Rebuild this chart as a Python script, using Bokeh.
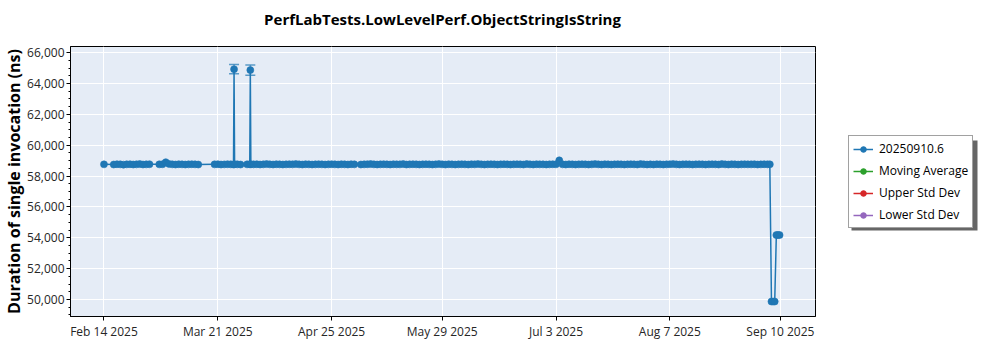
import math
import pandas as pd
from bokeh.plotting import figure
from bokeh.layouts import row, column
from bokeh.models import (ColumnDataSource, Whisker, TeeHead, Legend, LegendItem, Label,
                          FixedTicker, NumeralTickFormatter, Range1d, BoxAnnotation)
from bokeh.embed import file_html
from bokeh.resources import INLINE

title_text = "PerfLabTests.LowLevelPerf.ObjectStringIsString"
y_label = "Duration of single invocation (ns)"
legend_names = ["20250910.6", "Moving Average", "Upper Std Dev", "Lower Std Dev"]
legend_colors = ["#1f77b4", "#2ca02c", "#d62728", "#9467bd"]

# day-of-month per month (fractional = time of day)
feb_days = [14, 17, 18, 19, 20, 21, 22, 23, 24, 25, 26, 27, 28]
feb_vals = [58760, 58750, 58770, 58760, 58740, 58760, 58770, 58750, 58760, 58780, 58750, 58760, 58770]

mar_days = [3, 4, 5, 6, 7, 8, 9, 10, 11, 12, 13, 14, 15,
            20, 21, 22, 23, 24, 25, 25.83, 26, 26.17, 27, 28,
            30, 30.83, 31, 31.17]
mar_vals = [58760, 58770, 58900, 58790, 58760, 58750, 58770, 58760, 58750, 58760, 58770, 58760, 58750,
            58760, 58770, 58750, 58760, 58770, 58760, 58750, 64930, 58770, 58760, 58750,
            58760, 58770, 64870, 58760]

apr_days = [1, 2, 3, 4, 5, 6, 7, 8, 9, 10, 11, 12, 13, 14, 15, 16, 17, 18, 19, 20,
            21, 22, 23, 24, 25, 26, 27, 28, 29, 30]
apr_vals = [58760, 58770, 58750, 58760, 58780, 58760, 58750, 58770, 58760, 58750,
            58760, 58770, 58760, 58780, 58760, 58750, 58770, 58760, 58750, 58760,
            58770, 58760, 58750, 58760, 58770, 58760, 58750, 58770, 58760, 58750]

may_days = [1, 2, 4, 5, 6, 7, 8, 9, 10, 11, 12, 13, 14, 15, 16, 17, 18, 19, 20, 21,
            22, 23, 24, 25, 26, 27, 28, 29, 30, 31]
may_vals = [58770, 58760, 58750, 58760, 58770, 58780, 58760, 58750, 58760, 58770,
            58760, 58750, 58770, 58760, 58760, 58780, 58750, 58760, 58770, 58760,
            58750, 58760, 58770, 58760, 58750, 58760, 58780, 58760, 58750, 58770]

jun_days = [1, 2, 3, 4, 5, 6, 7, 8, 9, 10, 11, 12, 13, 14, 15, 16, 17, 18, 19, 20,
            21, 22, 23, 24, 25, 26, 27, 28, 29, 30]
jun_vals = [58760, 58750, 58760, 58770, 58760, 58750, 58770, 58760, 58780, 58760,
            58750, 58760, 58770, 58760, 58750, 58760, 58770, 58760, 58750, 58760,
            58770, 58760, 58750, 58780, 58760, 58750, 58770, 58760, 58760, 58750]

jul_days = [1, 2, 3, 4, 5, 6, 7, 8, 9, 10, 11, 12, 13, 14, 15, 16, 17, 18, 19, 20,
            21, 22, 23, 24, 25, 26, 27, 28, 29, 30, 31]
jul_vals = [58760, 58770, 58760, 59020, 58760, 58750, 58770, 58760, 58750, 58760,
            58770, 58760, 58750, 58760, 58780, 58760, 58750, 58770, 58760, 58750,
            58760, 58770, 58760, 58750, 58760, 58770, 58760, 58750, 58780, 58760,
            58750]

aug_days = [1, 2, 3, 4, 5, 6, 7, 8, 9, 10, 11, 12, 13, 14, 15, 16, 17, 18, 19, 20,
            21, 22, 23, 24, 25, 26, 27, 28, 29, 30, 31]
aug_vals = [58760, 58750, 58770, 58760, 58750, 58760, 58770, 58780, 58760, 58750,
            58760, 58770, 58760, 58750, 58760, 58770, 58760, 58750, 58760, 58770,
            58760, 58750, 58780, 58760, 58750, 58770, 58760, 58750, 58760, 58770,
            58760]

sep_days = [1, 2, 3, 4, 5, 6, 6.75, 7.25, 7.75, 8.25, 8.75, 9.25, 9.75]
sep_vals = [58760, 58770, 58750, 58760, 58770, 58760, 58760,
            49870, 49870, 49870, 54180, 54180, 54180]

# error bars on the two spikes
err_days_mar = [26, 31]
err_upper = [65240, 65200]
err_lower = [64640, 64530]

x_tick_dates = ["2025-02-14", "2025-03-21", "2025-04-25", "2025-05-29",
                "2025-07-03", "2025-08-07", "2025-09-10"]
x_tick_labels = ["Feb 14 2025", "Mar 21 2025", "Apr 25 2025", "May 29 2025",
                 "Jul 3 2025", "Aug 7 2025", "Sep 10 2025"]
y_ticks = [50000, 52000, 54000, 56000, 58000, 60000, 62000, 64000, 66000]


def to_dt(month, days):
    base = pd.Timestamp(f"2025-{month:02d}-01")
    return [base + pd.Timedelta(days=d - 1) for d in days]


xs = (to_dt(2, feb_days) + to_dt(3, mar_days) + to_dt(4, apr_days) + to_dt(5, may_days)
      + to_dt(6, jun_days) + to_dt(7, jul_days) + to_dt(8, aug_days) + to_dt(9, sep_days))
ys = feb_vals + mar_vals + apr_vals + may_vals + jun_vals + jul_vals + aug_vals + sep_vals

src = ColumnDataSource(dict(x=xs, y=ys))
err_src = ColumnDataSource(dict(x=to_dt(3, err_days_mar), upper=err_upper, lower=err_lower))

FONT = "Open Sans"

# ---- title strip above the plot ----
tf = figure(width=845, height=40, output_backend="svg", toolbar_location=None, title=None,
            x_range=Range1d(0, 1), y_range=Range1d(0, 1),
            x_axis_location=None, y_axis_location=None,
            min_border_left=0, min_border_right=0, min_border_top=0, min_border_bottom=0)
tf.grid.visible = False
tf.outline_line_color = None
tf.background_fill_color = "white"
tf.border_fill_color = "white"
tf.add_layout(Label(x=442, y=18, x_units="canvas", y_units="canvas", text=title_text,
                    text_align="center", text_baseline="middle", text_font=FONT,
                    text_font_size="15px", text_font_style="bold", text_color="#000000"))

p = figure(width=845, height=310, x_axis_type="datetime", output_backend="svg",
           toolbar_location=None, title=None,
           x_range=Range1d(pd.Timestamp("2025-02-03 17:00"), pd.Timestamp("2025-09-20 19:00")),
           y_range=Range1d(48900, 66400),
           min_border_left=70, min_border_right=30, min_border_top=6, min_border_bottom=34)

p.background_fill_color = "#E5ECF6"
p.border_fill_color = "white"
p.outline_line_color = "#000000"
p.outline_line_width = 1

p.xgrid.grid_line_color = "white"
p.ygrid.grid_line_color = "white"
p.xgrid.grid_line_width = 1
p.ygrid.grid_line_width = 1

tick_ms = [pd.Timestamp(d).value / 1e6 for d in x_tick_dates]
p.xaxis.ticker = FixedTicker(ticks=tick_ms)
p.xaxis.major_label_overrides = {t: lab for t, lab in zip(tick_ms, x_tick_labels)}
p.yaxis.ticker = FixedTicker(ticks=y_ticks,
                             minor_ticks=[48500 + 500 * i for i in range(37)])
p.yaxis.formatter = NumeralTickFormatter(format="0,0")

for ax in (p.xaxis[0], p.yaxis[0]):
    ax.axis_line_color = "#000000"
    ax.major_tick_line_color = "#000000"
    ax.minor_tick_line_color = "#000000"
    ax.major_tick_out = 4
    ax.major_tick_in = 0
    ax.minor_tick_out = 2
    ax.minor_tick_in = 0
    ax.major_label_text_font = FONT
    ax.major_label_text_font_size = "12px"
    ax.major_label_text_color = "#262626"
    ax.major_label_standoff = 2

p.yaxis.axis_label = y_label
p.yaxis.axis_label_text_font = FONT
p.yaxis.axis_label_text_font_size = "16px"
p.yaxis.axis_label_text_font_style = "bold"
p.yaxis.axis_label_text_color = "#000000"
p.yaxis.axis_label_standoff = -1

whisk = Whisker(base="x", upper="upper", lower="lower", source=err_src,
                line_color="#1f77b4", line_alpha=0.55, line_width=1.5,
                upper_head=TeeHead(size=10, line_color="#1f77b4", line_alpha=0.7, line_width=1.5),
                lower_head=TeeHead(size=10, line_color="#1f77b4", line_alpha=0.7, line_width=1.5))
p.add_layout(whisk)

p.line("x", "y", source=src, line_color="#1f77b4", line_width=1.5)
p.scatter("x", "y", source=src, size=7, fill_color="#1f77b4",
          line_color="#1f77b4", line_alpha=0.6)

# ---- legend panel (separate small canvas to the right of the plot) ----
lf = figure(width=155, height=350, output_backend="svg", toolbar_location=None,
            x_range=Range1d(0, 1), y_range=Range1d(0, 1),
            x_axis_location=None, y_axis_location=None,
            min_border_left=0, min_border_right=0, min_border_top=0, min_border_bottom=0)
lf.grid.visible = False
lf.outline_line_color = None
lf.background_fill_color = "white"
lf.border_fill_color = "white"

shadow = BoxAnnotation(left=6, right=132, top=140, bottom=230,
                       left_units="canvas", right_units="canvas",
                       top_units="canvas", bottom_units="canvas",
                       fill_color="#666666", fill_alpha=1, line_color=None)
lf.add_layout(shadow)

items = []
for name, col in zip(legend_names, legend_colors):
    ln = lf.line([0.5], [math.nan], line_color=col, line_width=1.5)
    pt = lf.scatter([0.5], [math.nan], size=6, fill_color=col, line_color=col)
    items.append(LegendItem(label=name, renderers=[ln, pt]))

legend = Legend(items=items, location=(3, 122), background_fill_color="white",
                background_fill_alpha=1, border_line_color="#444444", border_line_width=1,
                label_text_color="#000000", glyph_width=20, glyph_height=14,
                label_height=14, spacing=5, padding=4, label_standoff=6,
                label_text_font=FONT, label_text_font_size="12px", margin=0)
lf.add_layout(legend)

layout = row(column(tf, p), lf)
open("out.html", "w").write(file_html(layout, INLINE))
